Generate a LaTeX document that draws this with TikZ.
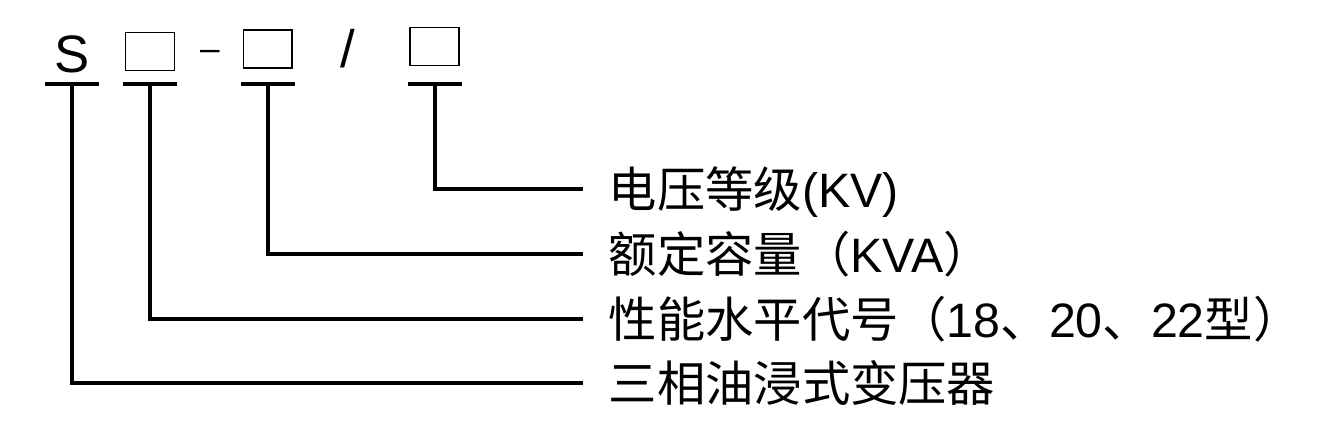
\documentclass[tikz,border=0pt]{standalone}
\usepackage{fontspec}
\setmainfont{Liberation Sans}
\newfontfamily\cjk{Noto Sans CJK SC}

\begin{document}
\begin{tikzpicture}[x=0.02cm,y=-0.02cm,line width=2pt]
\tikzstyle{code}=[inner sep=0pt,font=\fontsize{30}{36}\selectfont,text height=21.5pt,text depth=0pt]
\tikzstyle{box}=[draw,line width=1.1pt,minimum width=0.98cm,minimum height=0.76cm,inner sep=0pt,yshift=0.05cm]
\tikzstyle{sep}=[inner sep=0pt,font=\fontsize{20}{24}\selectfont,text height=9.8pt,text depth=0pt]
\tikzstyle{lbl}=[anchor=west,inner xsep=0.48cm,inner ysep=0pt,font=\fontsize{27.5}{33}\selectfont,text height=20.9pt,text depth=0pt]

\useasboundingbox (0,0) rectangle (1321,446);

\node[code]  (S)  at (72,54) {S};
\node[box]   (B1) [right of=S, node distance=1.56cm] {};
\node[sep]   (D)  [right of=B1, node distance=1.2cm] {–};
\node[box]   (B2) [right of=D, node distance=1.16cm] {};
\node[code]  (SL) [right of=B2, node distance=1.6cm] {/};
\node[box]   (B3) [right of=SL, node distance=1.74cm] {};

\node[lbl] (volt) at (583,189) {{\cjk 电压等级}(KV)};
\node[lbl] (cap)  at (583,254) {{\cjk 额定容量（}KVA{\cjk ）}};
\node[lbl] (perf) at (583,319) {{\cjk 性能水平代号（}18{\cjk 、}20{\cjk 、}22{\cjk 型）}};
\node[lbl] (type) at (583,383) {\cjk 三相油浸式变压器};

\coordinate (row) at (0,84);
\foreach \n/\l in {S/type, B1/perf, B2/cap, B3/volt}{
  \draw ([xshift=-0.54cm]\n |- row) -- ([xshift=0.54cm]\n |- row);
  \draw (\n |- row) |- (\l.west);
}
\end{tikzpicture}
\end{document}
